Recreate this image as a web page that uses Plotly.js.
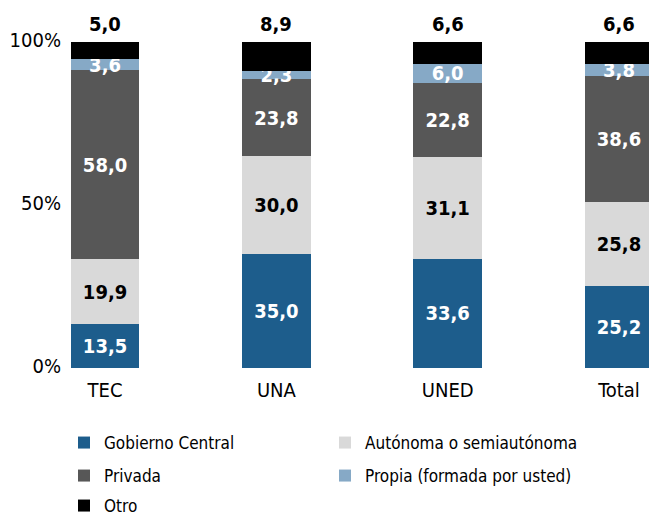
<!DOCTYPE html>
<html>
<head>
<meta charset="utf-8">
<script src="https://cdn.plot.ly/plotly-3.0.1.min.js"></script>
<style>html,body{margin:0;padding:0;background:#fff;}#chart{width:649px;height:516px;}</style>
</head>
<body>
<div id="chart"></div>
<script>
const categories = ["TEC", "UNA", "UNED", "Total"];
const gobiernoCentral = [13.5, 35.0, 33.6, 25.2];
const autonoma = [19.9, 30.0, 31.1, 25.8];
const privada = [58.0, 23.8, 22.8, 38.6];
const propia = [3.6, 2.3, 6.0, 3.8];
const otro = [5.0, 8.9, 6.6, 6.6];
const seriesNames = ["Gobierno Central", "Autónoma o semiautónoma", "Privada", "Propia (formada por usted)", "Otro"];
const yTickVals = [0, 50, 100];
const yTickText = ["0%", "50%", "100%"];

const FONT = "'Liberation Sans Narrow', 'Arial Narrow', 'DejaVu Sans Condensed', 'Roboto Condensed', sans-serif";
const colors = ["#1d5d8c", "#d9d9d9", "#575757", "#86a9c6", "#000000"];
const textColors = ["#ffffff", "#000000", "#ffffff", "#ffffff", "#000000"];
const legends = ["legend", "legend", "legend2", "legend2", "legend3"];
const values = [gobiernoCentral, autonoma, privada, propia, otro];
const fmt = d => d.toFixed(1).replace(".", ",");

const traces = values.map((v, i) => ({
  type: "bar",
  name: seriesNames[i],
  x: categories,
  y: v,
  width: 0.4,
  marker: {color: colors[i], line: {width: 0}},
  text: v.map(fmt),
  texttemplate: "%{text}",
  textposition: i === 4 ? "none" : "inside",
  insidetextanchor: "middle",
  constraintext: "none",
  textangle: 0,
  textfont: {family: FONT, size: 20, color: textColors[i], weight: "bold"},
  cliponaxis: false,
  legend: legends[i],
  hoverinfo: "skip"
}));

// Labels for the top series ("Otro"), placed above each stacked bar
const stackTops = categories.map((c, j) => values.reduce((s, arr) => s + arr[j], 0));
const annotations = categories.map((c, j) => ({
  x: c, y: stackTops[j], xref: "x", yref: "y",
  text: fmt(otro[j]), showarrow: false,
  xanchor: "center", yanchor: "bottom", yshift: 4,
  font: {family: FONT, size: 20, color: "#000", weight: "bold"}
}));

const legendBase = {
  orientation: "h",
  xref: "container", yref: "container",
  xanchor: "left", yanchor: "middle",
  font: {family: FONT, size: 17, color: "#000"},
  entrywidth: 216,
  bgcolor: "rgba(0,0,0,0)",
  itemclick: false, itemdoubleclick: false,
  traceorder: "normal"
};

const layout = {
  width: 649, height: 516,
  margin: {l: 66, r: 0, t: 42, b: 148, pad: 0},
  barmode: "stack",
  separators: ",.",
  paper_bgcolor: "#fff", plot_bgcolor: "#fff",
  font: {family: FONT, size: 19, color: "#000"},
  xaxis: {
    type: "category",
    range: [-0.228, 3.175],
    showgrid: false, zeroline: false, showline: false,
    ticks: "", ticklabelstandoff: 8,
    tickfont: {family: FONT, size: 20, color: "#000"},
    fixedrange: true
  },
  yaxis: {
    range: [0, 100.12],
    tickvals: yTickVals, ticktext: yTickText,
    showgrid: false, zeroline: false, showline: false,
    ticks: "", ticklabelshift: -2, ticklabelstandoff: 4,
    tickfont: {family: FONT, size: 20, color: "#000"},
    fixedrange: true
  },
  annotations: annotations,
  showlegend: true,
  legend: Object.assign({}, legendBase, {x: 64 / 649, y: 1 - 443 / 516}),
  legend2: Object.assign({}, legendBase, {x: 64 / 649, y: 1 - 476 / 516}),
  legend3: Object.assign({}, legendBase, {x: 64 / 649, y: 1 - 506 / 516})
};

Plotly.newPlot("chart", traces, layout, {displayModeBar: false, staticPlot: true});
</script>
</body>
</html>
